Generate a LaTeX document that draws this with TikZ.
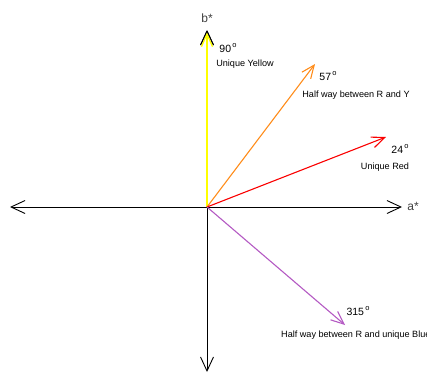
\documentclass[tikz,border=0pt]{standalone}
\usepackage{fontspec}
\setmainfont{Liberation Sans}
\usetikzlibrary{arrows.meta,positioning}
\definecolor{uyellow}{RGB}{255,255,0}
\definecolor{uorange}{RGB}{255,140,26}
\definecolor{ured}{RGB}{250,0,0}
\definecolor{upurple}{RGB}{180,90,195}
\tikzset{
  axis/.style={{Straight Barb[length=14pt,width=13pt]}-{Straight Barb[length=14pt,width=13pt]}, line width=0.9pt, black},
  hue/.style={-{Straight Barb[length=13pt,width=11pt]}, line width=1.1pt, #1},
  axislabel/.style={inner sep=0pt, font=\fontsize{12}{14}\selectfont, text=black!75},
  angle/.style={inner sep=0pt, font=\fontsize{10.5}{12}\selectfont},
  note/.style={inner sep=0pt, font=\fontsize{9.1}{10}\selectfont},
}
\newcommand{\degr}{\raisebox{0.9ex}{\fontsize{7.5}{8}\selectfont\,o}}
\begin{document}
\begin{tikzpicture}[x=1pt,y=-1pt]
\useasboundingbox (0,0) rectangle (427,375);
\coordinate (o) at (207,207);
\coordinate (west) at (10,207);
\coordinate (east) at (402,207);
\coordinate (north) at (207,30);
\coordinate (south) at (207,372);
\coordinate (yel) at (207,32);
\coordinate (org) at (315,64);
\coordinate (red) at (386,137);
\coordinate (blu) at (345,325);

% axes
\draw[axis] (west) -- (east);
\draw[axis] (south) -- (north);
\node[axislabel] (astar) at (413,206) {a*};
\node[axislabel] (bstar) at (207,18) {b*};

% hue directions
\draw[hue=uyellow, line width=1.3pt] (o) -- (yel);
\draw[hue=uorange] (o) -- (org);
\draw[hue=ured] (o) -- (red);
\draw[hue=upurple] (o) -- (blu);
\draw[line width=0.9pt] ([yshift=-1pt]north) -- +(-6.5,14) ([yshift=-1pt]north) -- +(6.5,14);

% labels
\node[angle] (deg90) at (228,48) {90\degr};
\node[note] (yellowtxt) at (245,64) {Unique Yellow};
\node[angle] (deg57) at (328,76) {57\degr};
\node[note] (rytxt) at (356,95) {Half way between R and Y};
\node[angle] (deg24) at (400,149) {24\degr};
\node[note] (redtxt) at (385,167) {Unique Red};
\node[angle] (deg315) at (358,311) {315\degr};
\node[note, anchor=west] (bluetxt) at (281,335) {Half way between R and unique Blue};
\end{tikzpicture}
\end{document}
